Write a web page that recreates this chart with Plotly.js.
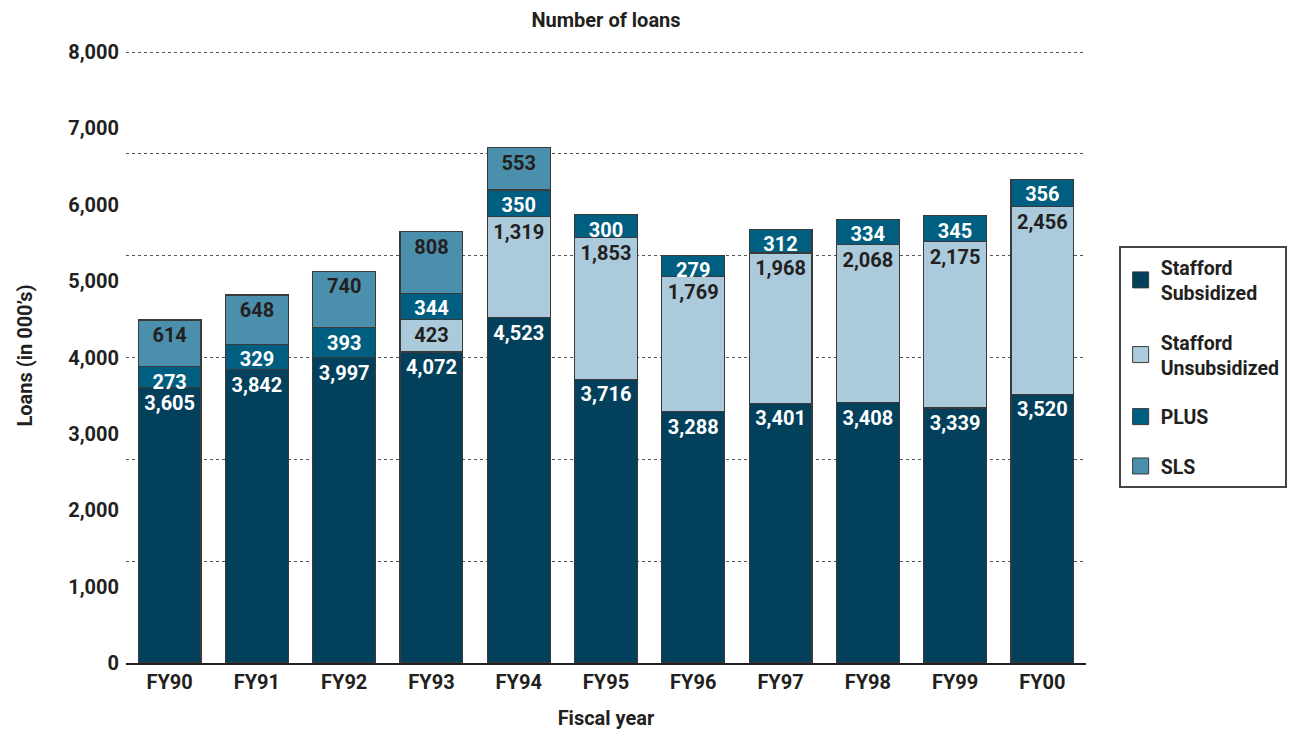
<!DOCTYPE html>
<html>
<head>
<meta charset="utf-8">
<script src="https://cdn.plot.ly/plotly-3.0.1.min.js"></script>
<style>html,body{margin:0;padding:0;background:#fff;}#chart{width:1301px;height:733px;}</style>
</head>
<body>
<div id="chart"></div>
<script>
const years = ["FY90","FY91","FY92","FY93","FY94","FY95","FY96","FY97","FY98","FY99","FY00"];
const staffordSub = [3605,3842,3997,4072,4523,3716,3288,3401,3408,3339,3520];
const staffordUnsub = [null,null,null,423,1319,1853,1769,1968,2068,2175,2456];
const plus = [273,329,393,344,350,300,279,312,334,345,356];
const sls = [614,648,740,808,553,null,null,null,null,null,null];
const yTicks = [0,1000,2000,3000,4000,5000,6000,7000,8000];
const gridVals = [1,2,3,4,5,6].map(k => 8000*k/6);

const FONT = "Roboto, 'DejaVu Sans Condensed', sans-serif";
const DARK = "#231f20";
const outline = {color:"#3a3a3a", width:1.2};
function F(size, color){ return {family:FONT, size:size, color:color||DARK, weight:"bold", stretch:"condensed"}; }

function barTrace(name, vals, color, txtColor){
  return {
    type:"bar", name:name, x:years, y:vals,
    marker:{color:color, line:outline},
    text: vals.map(v => v==null ? "" : v.toLocaleString("en-US")),
    textposition:"inside", insidetextanchor:"end", textangle:0,
    constraintext:"none",
    textfont:F(20, txtColor),
    showlegend:false, hoverinfo:"skip"
  };
}
function legendTrace(name, color, grp){
  return {type:"scatter", mode:"markers", name:name, x:[null], y:[null], legendgroup:grp,
    marker:{symbol:"square", size:16, color:color, line:{color:"#3a3a3a", width:1}}, hoverinfo:"skip"};
}
const cSub="#02405c", cUnsub="#abcadb", cPlus="#005f80", cSls="#4a8fab";
const data = [
  barTrace("Stafford Subsidized", staffordSub, cSub, "#ffffff"),
  barTrace("Stafford Unsubsidized", staffordUnsub, cUnsub, DARK),
  barTrace("PLUS", plus, cPlus, "#ffffff"),
  barTrace("SLS", sls, cSls, DARK),
  legendTrace("Stafford<br>Subsidized", cSub, "a"),
  legendTrace("Stafford<br>Unsubsidized", cUnsub, "b"),
  legendTrace("PLUS", cPlus, "c"),
  legendTrace("SLS", cSls, "d"),
  {type:"scatter", x:years, y:years.map(()=>null), yaxis:"y2", showlegend:false, hoverinfo:"skip"}
];
const layout = {
  width:1301, height:733,
  margin:{l:126, r:215, t:48, b:70, autoexpand:false},
  paper_bgcolor:"#fff", plot_bgcolor:"#fff",
  barmode:"stack", bargap:0.28,
  separators:".,",
  font:F(20),
  title:{text:"Number of loans", x:0.5, xref:"paper", y:0.982, yref:"container", yanchor:"top", font:F(20)},
  xaxis:{type:"category", range:[-0.5, years.length-0.5], showline:true, linecolor:DARK, linewidth:2, ticks:"", showgrid:false,
         tickfont:F(20), title:{text:"Fiscal year", font:F(20), standoff:18}},
  yaxis:{range:[0,8052.4], tickvals:yTicks, tickformat:",d", showgrid:false, zeroline:false, showline:false,
         ticks:"", tickfont:F(20), ticklabelstandoff:6,
         title:{text:"Loans (in 000’s)", font:F(20), standoff:30}},
  yaxis2:{overlaying:"y", range:[0,8052.4], tickvals:gridVals, showticklabels:false, showgrid:true,
          gridcolor:"#555", griddash:"dot", gridwidth:1, zeroline:false, showline:false, ticks:""},
  legend:{x:1.034, xanchor:"left", y:0.678, yanchor:"top", bordercolor:"#444", borderwidth:2, traceorder:"grouped",
          bgcolor:"#fff", font:F(19.5), tracegroupgap:21, itemsizing:"trace"},
  showlegend:true
};
Plotly.newPlot("chart", data, layout, {displayModeBar:false, staticPlot:true});
</script>
</body>
</html>
